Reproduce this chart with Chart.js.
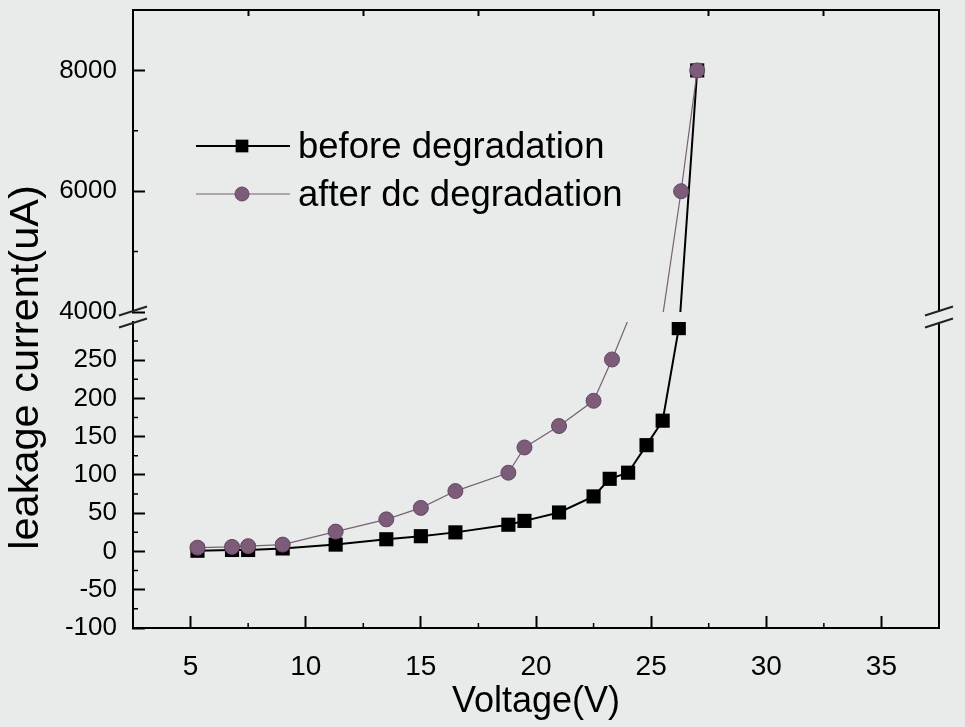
<!DOCTYPE html>
<html>
<head>
<meta charset="utf-8">
<title>Leakage current vs. voltage</title>
<script src="https://cdn.jsdelivr.net/npm/chart.js@4.4.1/dist/chart.umd.min.js"></script>
<style>
  html, body { margin: 0; padding: 0; background: #e9ebeb; }
  canvas { display: block; }
</style>
</head>
<body>
<canvas id="chart" width="965" height="727"></canvas>
<script>
// Leakage current against voltage, before and after dc degradation,
// drawn on a y axis broken between 300 uA and 4000 uA.

const seriesNames = ['before degradation', 'after dc degradation'];

// before degradation (V, uA); 3900 uA lies inside the axis break
const voltageBefore = [5.3, 6.8, 7.5, 9.0, 11.3, 13.5, 15.0, 16.5, 18.8, 19.5, 21.0, 22.5, 23.2, 24.0, 24.8, 25.5, 26.2, 26.25, 27.0];
const currentBefore = [1, 2, 2, 4, 9, 16, 20, 25, 35, 40, 51, 72, 95, 103, 139, 171, 292, 3900, 8000];

// after dc degradation (V, uA); 310 uA lies inside the axis break
const voltageAfter = [5.3, 6.8, 7.5, 9.0, 11.3, 13.5, 15.0, 16.5, 18.8, 19.5, 21.0, 22.5, 23.3, 24.1, 26.3, 27.0];
const currentAfter = [5, 6, 7, 9, 26, 42, 57, 79, 103, 136, 164, 197, 251, 310, 6000, 8000];

// axis ranges and ticks
const xRange = [2.5, 37.5];
const lowRange = [-100, 300];
const highRange = [4000, 9000];

const xTicks = [5, 10, 15, 20, 25, 30, 35];
const xMinorTicks = [7.5, 12.5, 17.5, 22.5, 27.5, 32.5];
const topTicks = [7.5, 12.5, 17.5, 22.5, 27.5, 32.5];
const lowTicks = [-100, -50, 0, 50, 100, 150, 200, 250];
const lowMinorTicks = [-75, -25, 25, 75, 125, 175, 225, 275];
const highTicks = [4000, 6000, 8000];
const highMinorTicks = [5000, 7000];

const FONT = '"Liberation Sans", Arial, Helvetica, sans-serif';
const Y_AXIS_WIDTH = 82;

const toPoints = (xs, ys) => xs.map((x, i) => ({ x, y: ys[i] }));
const inBreak = v => v > lowRange[1] && v < highRange[0];

const styles = [
  { // before degradation
    borderColor: '#000', borderWidth: 2,
    pointStyle: 'rect', pointRadius: 10,
    pointBackgroundColor: '#000', pointBorderColor: '#000', pointBorderWidth: 0,
    order: 1
  },
  { // after dc degradation
    borderColor: 'rgba(112, 90, 112, 0.95)', borderWidth: 1.2,
    pointStyle: 'circle', pointRadius: 7.5,
    pointBackgroundColor: '#7c5c78', pointBorderColor: '#634762', pointBorderWidth: 1,
    order: 0
  }
];

const seriesPoints = [
  toPoints(voltageBefore, currentBefore),
  toPoints(voltageAfter, currentAfter)
];

// every series is drawn once in each panel of the broken axis
const datasets = [];
['yLow', 'yHigh'].forEach(axis => {
  seriesPoints.forEach((pts, i) => {
    const st = styles[i];
    datasets.push(Object.assign({}, st, {
      label: seriesNames[i],
      data: pts,
      yAxisID: axis,
      tension: 0,
      pointRadius: ctx => (ctx.raw && inBreak(ctx.raw.y)) ? 0 : st.pointRadius
    }));
  });
});

const zeroPadding = s => { s.paddingTop = 0; s.paddingBottom = 0; s.paddingLeft = 0; s.paddingRight = 0; };
const setTicks = values => s => { s.ticks = values.map(v => ({ value: v })); };
const plainNumber = v => String(v);

const tickGrid = len => ({
  display: true, drawOnChartArea: false, drawTicks: true,
  tickLength: -len, tickWidth: 2, tickColor: '#000'
});
const axisBorder = { display: true, color: '#000', width: 2 };

// clip each dataset to the panel of its own y axis
const panelClip = {
  id: 'panelClip',
  beforeDatasetDraw(chart, args) {
    const y = args.meta.yScale, a = chart.chartArea, ctx = chart.ctx;
    ctx.save();
    ctx.beginPath();
    ctx.rect(a.left, y.top, a.right - a.left, y.bottom - y.top);
    ctx.clip();
  },
  afterDatasetDraw(chart) { chart.ctx.restore(); }
};

// right frame, minor ticks and the break marks
const frameDecor = {
  id: 'frameDecor',
  afterDraw(chart) {
    const { ctx, chartArea: a, scales } = chart;
    const lo = scales.yLow, hi = scales.yHigh;
    ctx.save();
    ctx.strokeStyle = '#000';
    ctx.lineWidth = 2;
    ctx.beginPath();
    ctx.moveTo(a.right, a.top - 1); ctx.lineTo(a.right, hi.bottom);
    ctx.moveTo(a.right, lo.top); ctx.lineTo(a.right, a.bottom + 1);
    ctx.stroke();

    ctx.lineWidth = 1.5;
    ctx.beginPath();
    xMinorTicks.forEach(v => {
      const px = scales.x.getPixelForValue(v);
      ctx.moveTo(px, a.bottom); ctx.lineTo(px, a.bottom - 5);
    });
    [[lo, lowMinorTicks], [hi, highMinorTicks]].forEach(([s, vals]) => vals.forEach(v => {
      const py = s.getPixelForValue(v);
      ctx.moveTo(a.left, py); ctx.lineTo(a.left + 5, py);
    }));
    ctx.stroke();

    ctx.strokeStyle = '#222';
    ctx.lineWidth = 2;
    ctx.beginPath();
    [a.left, a.right].forEach(x0 => {
      [hi.bottom - 1, lo.top + 1].forEach(yb => {
        ctx.moveTo(x0 - 14, yb + 4.5);
        ctx.lineTo(x0 + 14, yb - 4.5);
      });
    });
    ctx.stroke();
    ctx.restore();
  }
};

// legend inside the plot: line sample with its marker, then the label
const lineLegend = {
  id: 'lineLegend',
  afterDraw(chart) {
    const ctx = chart.ctx;
    const rows = [146, 194];
    const x0 = 196, x1 = 290, xm = 242, xt = 298;
    ctx.save();
    seriesNames.forEach((name, i) => {
      const st = styles[i], y = rows[i];
      ctx.strokeStyle = st.borderColor;
      ctx.lineWidth = st.borderWidth;
      ctx.beginPath();
      ctx.moveTo(x0, y); ctx.lineTo(x1, y);
      ctx.stroke();
      ctx.fillStyle = st.pointBackgroundColor;
      ctx.strokeStyle = st.pointBorderColor;
      ctx.lineWidth = st.pointBorderWidth;
      Chart.helpers.drawPoint(ctx, {
        pointStyle: st.pointStyle, radius: i === 0 ? 9 : 7, rotation: 0,
        borderWidth: st.pointBorderWidth
      }, xm, y);
      ctx.fillStyle = '#000';
      ctx.font = '36.5px ' + FONT;
      ctx.textBaseline = 'middle';
      ctx.textAlign = 'left';
      ctx.fillText(name, xt, y + 2);
    });
    ctx.restore();
  }
};

new Chart(document.getElementById('chart'), {
  type: 'line',
  data: { datasets },
  options: {
    responsive: false,
    animation: false,
    devicePixelRatio: 1,
    layout: { padding: { top: 8, right: 26, bottom: 0, left: 0 } },
    plugins: {
      legend: { display: false },
      tooltip: { enabled: false },
      title: {
        display: true, position: 'left', text: 'leakage current(uA)', color: '#000',
        font: { family: FONT, size: 41.5, weight: 'normal', lineHeight: '48px' },
        padding: { top: 3, bottom: 0 }
      }
    },
    scales: {
      x: {
        type: 'linear', position: 'bottom', min: xRange[0], max: xRange[1],
        afterBuildTicks: setTicks(xTicks),
        afterFit: s => { s.height = 99; zeroPadding(s); },
        grid: tickGrid(12),
        border: axisBorder,
        ticks: { padding: 34, color: '#000', font: { family: FONT, size: 28 }, maxRotation: 0, autoSkip: false, callback: plainNumber },
        title: {
          display: true, text: 'Voltage(V)', color: '#000',
          font: { family: FONT, size: 36 }, padding: { top: 0, bottom: 3 }
        }
      },
      xTop: {
        type: 'linear', position: 'top', min: xRange[0], max: xRange[1],
        afterBuildTicks: setTicks(topTicks),
        afterFit: s => { s.height = 0; zeroPadding(s); },
        grid: tickGrid(6),
        border: axisBorder,
        ticks: { display: false }
      },
      yLow: {
        type: 'linear', position: 'left', stack: 'v', stackWeight: 307,
        min: lowRange[0], max: lowRange[1],
        afterBuildTicks: setTicks(lowTicks),
        afterFit: s => { s.width = Y_AXIS_WIDTH; zeroPadding(s); },
        grid: tickGrid(12),
        border: axisBorder,
        ticks: { padding: 28, color: '#000', font: { family: FONT, size: 26 }, autoSkip: false, callback: plainNumber }
      },
      yGap: {
        type: 'linear', position: 'left', stack: 'v', stackWeight: 10, display: false,
        afterFit: s => { s.width = Y_AXIS_WIDTH; zeroPadding(s); }
      },
      yHigh: {
        type: 'linear', position: 'left', stack: 'v', stackWeight: 303,
        min: highRange[0], max: highRange[1],
        afterBuildTicks: setTicks(highTicks),
        afterFit: s => { s.width = Y_AXIS_WIDTH; zeroPadding(s); },
        grid: tickGrid(12),
        border: axisBorder,
        ticks: { padding: 28, color: '#000', font: { family: FONT, size: 26 }, autoSkip: false, callback: plainNumber }
      }
    }
  },
  plugins: [panelClip, frameDecor, lineLegend]
});
</script>
</body>
</html>
